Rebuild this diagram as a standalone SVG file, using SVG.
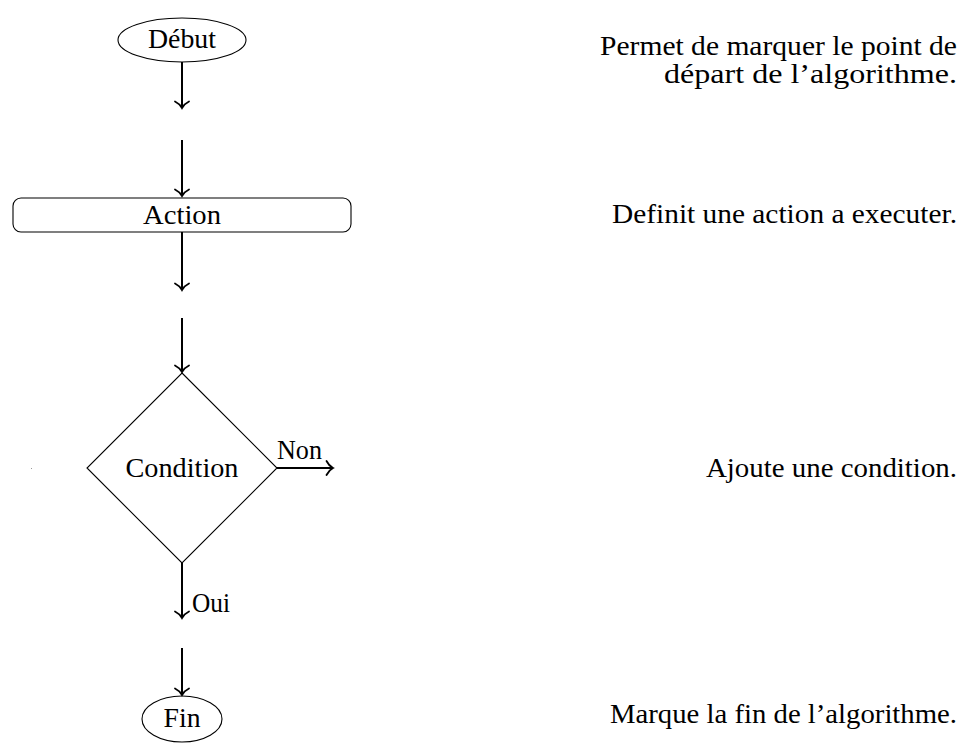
<svg xmlns="http://www.w3.org/2000/svg" width="960" height="747" viewBox="0 0 960 747">
<defs>
<marker id="arr" markerUnits="userSpaceOnUse" markerWidth="18" markerHeight="18" viewBox="-9 -9 18 18" refX="0" refY="0" orient="auto">
<path d="M -6.5 -7 C -4.5 -3, -1.5 -0.8, 0 0 C -1.5 0.8, -4.5 3, -6.5 7" fill="none" stroke="#000" stroke-width="1.8" stroke-linecap="round"/>
</marker>
</defs>
<style>
text{font-family:"Liberation Serif","DejaVu Serif",serif;font-size:26.5px;fill:#000}
.shape{fill:#fff;stroke:#000;stroke-width:1.1}
.c{text-anchor:middle}
.r{text-anchor:end}
.conn line{stroke:#000;stroke-width:2;marker-end:url(#arr)}
</style>
<rect width="960" height="747" fill="#fff"/>
<g id="debut">
<ellipse class="shape" cx="182" cy="40" rx="64" ry="22"/>
<text class="c" x="182" y="48" textLength="68" lengthAdjust="spacingAndGlyphs">Début</text>
</g>
<g id="action">
<rect class="shape" x="13" y="198" width="338" height="34" rx="8"/>
<text class="c" x="182" y="224" textLength="78" lengthAdjust="spacingAndGlyphs">Action</text>
</g>
<g id="condition">
<polygon class="shape" points="182,373 277,468 182,563 87,468"/>
<text class="c" x="182" y="477" textLength="113" lengthAdjust="spacingAndGlyphs">Condition</text>
</g>
<g id="fin">
<ellipse class="shape" cx="182" cy="719" rx="40" ry="23"/>
<text class="c" x="182" y="727" textLength="37" lengthAdjust="spacingAndGlyphs">Fin</text>
</g>
<g id="connectors" class="conn">
<line x1="182" y1="62" x2="182" y2="108"/>
<line x1="182" y1="140" x2="182" y2="196"/>
<line x1="182" y1="232" x2="182" y2="290"/>
<line x1="182" y1="318" x2="182" y2="372"/>
<line x1="277" y1="468" x2="333" y2="468"/>
<line x1="182" y1="563" x2="182" y2="618"/>
<line x1="182" y1="648" x2="182" y2="695"/>
</g>
<g id="labels">
<text x="277" y="459" textLength="45" lengthAdjust="spacingAndGlyphs">Non</text>
<text x="192" y="612" textLength="38" lengthAdjust="spacingAndGlyphs">Oui</text>
</g>
<rect x="31" y="468" width="1" height="1" fill="#999"/>
<g id="descriptions">
<text class="r" x="957" y="55" textLength="357" lengthAdjust="spacingAndGlyphs">Permet de marquer le point de</text>
<text class="r" x="957" y="83" textLength="293" lengthAdjust="spacingAndGlyphs">départ de l’algorithme.</text>
<text class="r" x="957" y="223" textLength="345" lengthAdjust="spacingAndGlyphs">Definit une action a executer.</text>
<text class="r" x="957" y="477" textLength="251" lengthAdjust="spacingAndGlyphs">Ajoute une condition.</text>
<text class="r" x="957" y="723" textLength="347" lengthAdjust="spacingAndGlyphs">Marque la fin de l’algorithme.</text>
</g>
</svg>
